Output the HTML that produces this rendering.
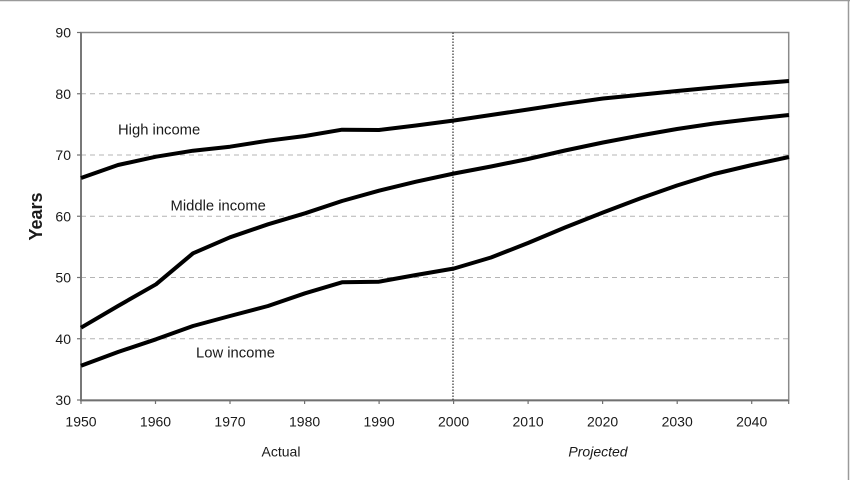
<!DOCTYPE html>
<html><head><meta charset="utf-8"><style>
html,body{margin:0;padding:0;background:#fff;}
svg{display:block;}
text{font-family:"Liberation Sans",Arial,sans-serif;fill:#1a1a1a;}
</style></head><body>
<svg width="850" height="480" viewBox="0 0 850 480" xmlns="http://www.w3.org/2000/svg">
<rect x="0" y="0" width="850" height="480" fill="#fff"/>
<line x1="0" y1="0.5" x2="850" y2="0.5" stroke="#9a9a9a" stroke-width="1.5"/>
<line x1="848.5" y1="0" x2="848.5" y2="480" stroke="#9a9a9a" stroke-width="1.5"/>
<g stroke="#b4b4b4" stroke-width="1" stroke-dasharray="5,4">
<line x1="81" y1="93.75" x2="788" y2="93.75"/>
<line x1="81" y1="155" x2="788" y2="155"/>
<line x1="81" y1="216.25" x2="788" y2="216.25"/>
<line x1="81" y1="277.5" x2="788" y2="277.5"/>
<line x1="81" y1="338.75" x2="788" y2="338.75"/>
</g>
<rect x="81" y="32.5" width="707.7" height="367.5" fill="none" stroke="#8a8a8a" stroke-width="1.5"/>
<line x1="81" y1="32.5" x2="81" y2="400.5" stroke="#707070" stroke-width="1.8"/>
<line x1="80" y1="400.5" x2="789" y2="400.5" stroke="#707070" stroke-width="1.8"/>
<g stroke="#707070" stroke-width="1.2">
<line x1="77" y1="32.5" x2="81" y2="32.5"/><line x1="77" y1="93.75" x2="81" y2="93.75"/><line x1="77" y1="155" x2="81" y2="155"/><line x1="77" y1="216.25" x2="81" y2="216.25"/><line x1="77" y1="277.5" x2="81" y2="277.5"/><line x1="77" y1="338.75" x2="81" y2="338.75"/><line x1="77" y1="400" x2="81" y2="400"/>
<line x1="81" y1="400" x2="81" y2="404"/><line x1="155.5" y1="400" x2="155.5" y2="404"/><line x1="230" y1="400" x2="230" y2="404"/><line x1="304.6" y1="400" x2="304.6" y2="404"/><line x1="379.1" y1="400" x2="379.1" y2="404"/><line x1="453.6" y1="400" x2="453.6" y2="404"/><line x1="528.1" y1="400" x2="528.1" y2="404"/><line x1="602.6" y1="400" x2="602.6" y2="404"/><line x1="677.2" y1="400" x2="677.2" y2="404"/><line x1="751.7" y1="400" x2="751.7" y2="404"/><line x1="788.7" y1="400" x2="788.7" y2="404"/>
</g>
<line x1="453" y1="32.5" x2="453" y2="400" stroke="#333" stroke-width="1.2" stroke-dasharray="1.5,1.5"/>
<g fill="none" stroke="#000" stroke-width="4" stroke-linejoin="round">
<polyline points="81,178 118,165 156,156.7 193,150.7 230,146.7 268,140.7 305,136 342,129.7 379,130 416,125.5 454,120.5 491,115 528,109.5 565,103.8 603,98.5 640,94.8 677,91 714,87.5 752,84 789,81"/>
<polyline points="81,327.7 118,306 156,284.3 193,253.3 230,237.3 268,224.3 305,213.3 342,201 379,190.7 416,181.7 454,173.5 491,166.5 528,159 565,150.5 603,142.5 640,135.5 677,129 714,123.5 752,119 789,115"/>
<polyline points="81,365.7 118,352 156,339.3 193,326 230,316 268,306 305,293.3 342,282.3 379,281.7 416,275 454,268.5 491,257.5 528,243 565,227.5 603,212.5 640,198.5 677,185.5 714,174 752,165 789,157"/>
</g>
<g font-size="14" text-anchor="end">
<text x="71" y="37.5">90</text><text x="71" y="98.75">80</text><text x="71" y="160">70</text><text x="71" y="221.25">60</text><text x="71" y="282.5">50</text><text x="71" y="343.75">40</text><text x="71" y="405">30</text>
</g>
<g font-size="14" text-anchor="middle">
<text x="81" y="426.5">1950</text><text x="155.5" y="426.5">1960</text><text x="230" y="426.5">1970</text><text x="304.6" y="426.5">1980</text><text x="379.1" y="426.5">1990</text><text x="453.6" y="426.5">2000</text><text x="528.1" y="426.5">2010</text><text x="602.6" y="426.5">2020</text><text x="677.2" y="426.5">2030</text><text x="751.7" y="426.5">2040</text>
<text x="281" y="456.5">Actual</text>
<text x="598" y="456.5" font-style="italic">Projected</text>
</g>
<g font-size="14.8">
<text x="118" y="134.5">High income</text>
<text x="170.5" y="210.5">Middle income</text>
<text x="196" y="357.5">Low income</text>
</g>
<text x="0" y="0" font-size="18" font-weight="bold" text-anchor="middle" transform="translate(42,216.5) rotate(-90)">Years</text>
</svg>
</body></html>
